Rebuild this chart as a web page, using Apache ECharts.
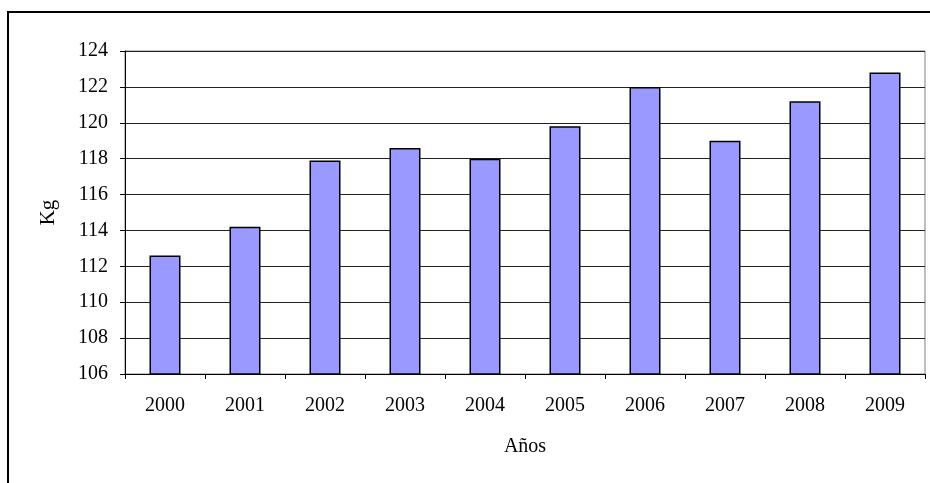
<!DOCTYPE html>
<html>
<head>
<meta charset="utf-8">
<script src="https://cdn.jsdelivr.net/npm/echarts@6/dist/echarts.min.js"></script>
<style>
  html, body { margin: 0; padding: 0; background: #fff; }
  #chart { width: 930px; height: 483px; }
</style>
</head>
<body>
<div id="chart"></div>
<script>
// datos
var years = ["2000", "2001", "2002", "2003", "2004", "2005", "2006", "2007", "2008", "2009"];
var kg = [112.6, 114.2, 117.9, 118.6, 118.0, 119.8, 122.0, 119.0, 121.2, 122.8];
var yTicks = { min: 106, max: 124, step: 2 };

var font = "'Liberation Serif', 'DejaVu Serif', serif";
var chart = echarts.init(document.getElementById("chart"));

chart.setOption({
    animation: false,
    backgroundColor: "#fff",
    graphic: [{
        type: "rect",
        shape: { x: 8, y: 12, width: 960, height: 520 },
        style: { fill: null, stroke: "#000", lineWidth: 2 },
        silent: true
    }],
    grid: {
        left: 125, right: 5, top: 51, bottom: 109,
        show: true, borderColor: "#808080", borderWidth: 1
    },
    xAxis: {
        type: "category",
        data: years,
        name: "Años",
        nameLocation: "middle",
        nameGap: 63,
        nameTextStyle: { fontFamily: font, fontSize: 20, color: "#000" },
        axisLine: { lineStyle: { color: "#000", width: 1 } },
        axisTick: { show: true, alignWithLabel: false, length: 5, lineStyle: { color: "#000" } },
        axisLabel: { fontFamily: font, fontSize: 20, color: "#000", margin: 22 }
    },
    yAxis: {
        type: "value",
        min: yTicks.min,
        max: yTicks.max,
        interval: yTicks.step,
        name: "Kg",
        nameLocation: "middle",
        nameGap: 66,
        nameRotate: 90,
        nameTextStyle: { fontFamily: font, fontSize: 21, color: "#000" },
        axisLine: { show: true, lineStyle: { color: "#000", width: 1 } },
        axisTick: { show: true, length: 5, lineStyle: { color: "#000" } },
        axisLabel: { fontFamily: font, fontSize: 20, color: "#000", margin: 17 },
        splitLine: { lineStyle: { color: "#222", width: 1 } }
    },
    series: [{
        type: "bar",
        data: kg,
        barWidth: 31,
        itemStyle: { color: "#9999ff", borderColor: "#000", borderWidth: 1.5 }
    }]
});
</script>
</body>
</html>
